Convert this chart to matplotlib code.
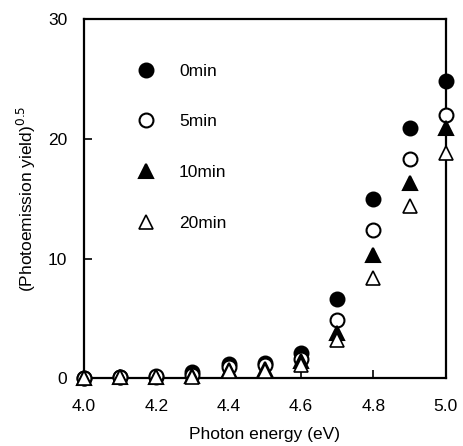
import matplotlib
matplotlib.use('Agg')
import matplotlib.pyplot as plt

plt.rcParams['font.family'] = ['Liberation Sans', 'DejaVu Sans']

# photon energy (eV)
energy = [4.0, 4.1, 4.2, 4.3, 4.4, 4.5, 4.6, 4.7, 4.8, 4.9, 5.0]

# (photoemission yield)^0.5 after each exposure time
y0 = [0.0, 0.1, 0.1, 0.5, 1.2, 1.3, 2.1, 6.6, 15.0, 20.9, 24.8]
y5 = [0.0, 0.1, 0.2, 0.3, 0.9, 1.1, 1.6, 4.9, 12.4, 18.3, 22.0]
y10 = [0.0, 0.1, 0.1, 0.2, 0.7, 0.8, 1.4, 3.8, 10.3, 16.3, 20.9]
y20 = [0.0, 0.1, 0.1, 0.1, 0.6, 0.6, 1.1, 3.2, 8.4, 14.4, 18.8]

fig = plt.figure(figsize=(4.63, 4.46), dpi=100)
ax = fig.add_axes([0.181, 0.152, 0.782, 0.805])

ms = 10
ax.plot(energy, y0, 'o', color='black', mfc='black', ms=ms, mew=1.5,
        label='0min', clip_on=False, zorder=3)
ax.plot(energy, y5, 'o', color='black', mfc='white', ms=ms, mew=1.5,
        label='5min', clip_on=False, zorder=4)
ax.plot(energy, y10, '^', color='black', mfc='black', ms=ms, mew=1.5,
        label='10min', clip_on=False, zorder=5)
ax.plot(energy, y20, '^', color='black', mfc='white', ms=ms, mew=1.2,
        label='20min', clip_on=False, zorder=6)

ax.set_xlim(4.0, 5.0)
ax.set_ylim(0, 30)
ax.set_xticks([4.0, 4.2, 4.4, 4.6, 4.8, 5.0])
ax.set_xticklabels(['4.0', '4.2', '4.4', '4.6', '4.8', '5.0'])
ax.set_yticks([0, 10, 20, 30])

for s in ax.spines.values():
    s.set_linewidth(1.6)
ax.tick_params(direction='in', length=6, width=1.2, labelsize=12.5)
ax.tick_params(axis='x', pad=15)
ax.tick_params(axis='y', pad=12)

ax.set_xlabel('Photon energy (eV)', fontsize=12.5, labelpad=9)
ax.set_ylabel('(Photoemission yield)$^{0.5}$', fontsize=12.5, labelpad=7)

ax.legend(loc='upper left', bbox_to_anchor=(0.10, 0.92), frameon=False,
          fontsize=12.5, labelspacing=2.05, handletextpad=1.3,
          handlelength=1.2, numpoints=1, borderpad=0.4)

fig.savefig('out.png', dpi=100)
